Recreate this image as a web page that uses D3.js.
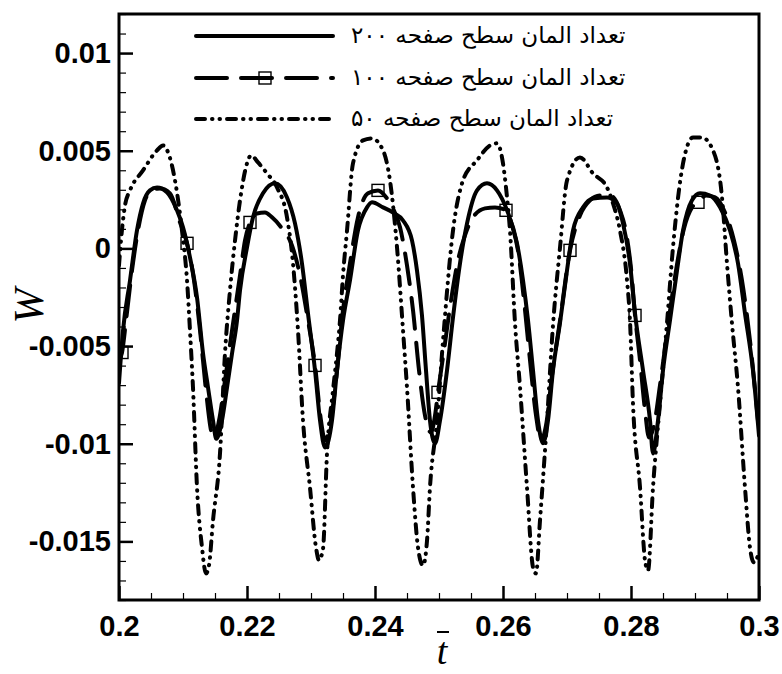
<!DOCTYPE html>
<html><head><meta charset="utf-8">
<script src="https://cdn.jsdelivr.net/npm/d3@7/dist/d3.min.js"></script>
<style>body{margin:0;background:#fff}</style>
</head><body><svg id="c" width="782" height="674"></svg>
<script>
// ---------- data ----------
const xTicks = [0.2, 0.22, 0.24, 0.26, 0.28, 0.3];
const xTickLabels = ["0.2", "0.22", "0.24", "0.26", "0.28", "0.3"];
const yTicks = [0.01, 0.005, 0, -0.005, -0.01, -0.015];
const yTickLabels = ["0.01", "0.005", "0", "-0.005", "-0.01", "-0.015"];
const seriesNames = ["تعداد المان سطح صفحه ۲۰۰", "تعداد المان سطح صفحه ۱۰۰", "تعداد المان سطح صفحه ۵۰"];
const xTitle = "t";
const yTitle = "W";

// [t, W]
const series200 = [[0.2,-6.9e-3],[0.20063,-4.2e-3],[0.20172,-1.64e-3],[0.20281,0.92e-3],[0.20375,2.3e-3],[0.20484,2.97e-3],[0.20594,3.12e-3],[0.2075,2.87e-3],[0.20906,1.95e-3],[0.21,1.08e-3],[0.21109,-0.46e-3],[0.21219,-2.51e-3],[0.21313,-5.38e-3],[0.21391,-7.12e-3],[0.21469,-8.81e-3],[0.2152,-9.75e-3],[0.21609,-8.81e-3],[0.21688,-7.12e-3],[0.21766,-5.38e-3],[0.21844,-3.69e-3],[0.21891,-2.15e-3],[0.22,0.05e-3],[0.22094,1.59e-3],[0.2225,2.82e-3],[0.22438,3.33e-3],[0.22625,2.61e-3],[0.2275,1.28e-3],[0.22859,-0.77e-3],[0.22953,-3.33e-3],[0.23063,-6.25e-3],[0.23141,-8.81e-3],[0.23219,-10.19e-3],[0.23328,-8.81e-3],[0.23406,-6.25e-3],[0.235,-3.69e-3],[0.23609,-1.64e-3],[0.23734,0.92e-3],[0.23875,2.1e-3],[0.23953,2.36e-3],[0.24125,2.1e-3],[0.24281,1.84e-3],[0.24438,1.43e-3],[0.24578,0.41e-3],[0.24656,-1.13e-3],[0.24734,-3.43e-3],[0.24797,-6.25e-3],[0.24859,-8.81e-3],[0.24938,-9.98e-3],[0.25016,-8.81e-3],[0.25125,-6.25e-3],[0.25219,-3.53e-3],[0.25328,-0.77e-3],[0.25438,1.28e-3],[0.25594,2.97e-3],[0.2575,3.33e-3],[0.25906,2.97e-3],[0.26063,1.95e-3],[0.26219,0.26e-3],[0.26313,-1.64e-3],[0.26391,-3.69e-3],[0.26469,-6.25e-3],[0.26547,-8.81e-3],[0.26625,-9.98e-3],[0.26703,-8.81e-3],[0.26781,-6.25e-3],[0.26891,-3.8e-3],[0.27,-1.13e-3],[0.27094,0.92e-3],[0.2725,2.1e-3],[0.27406,2.56e-3],[0.27625,2.61e-3],[0.27781,2.3e-3],[0.27875,1.28e-3],[0.27984,-0.77e-3],[0.28063,-3.33e-3],[0.28188,-6.25e-3],[0.28297,-8.81e-3],[0.28344,-10.5e-3],[0.28422,-8.81e-3],[0.285,-6.25e-3],[0.28609,-3.69e-3],[0.28719,-1.13e-3],[0.28813,0.92e-3],[0.28953,2.46e-3],[0.29078,2.82e-3],[0.29234,2.71e-3],[0.29391,2.1e-3],[0.29547,0.92e-3],[0.29672,-0.77e-3],[0.29781,-3.33e-3],[0.29906,-6.25e-3],[0.3,-9.58e-3]];

const series100 = [[0.2,-5.73e-3],[0.20047,-5.33e-3],[0.2011,-3.69e-3],[0.20203,-1.13e-3],[0.20297,0.92e-3],[0.20406,2.46e-3],[0.20516,2.97e-3],[0.20641,3.07e-3],[0.20797,2.82e-3],[0.20953,1.33e-3],[0.21063,0.26e-3],[0.21172,-1.64e-3],[0.21266,-4.2e-3],[0.21359,-7.27e-3],[0.21438,-9.32e-3],[0.21484,-9.73e-3],[0.21563,-8.81e-3],[0.21656,-6.76e-3],[0.21766,-4.2e-3],[0.21891,-1.38e-3],[0.21969,0.41e-3],[0.22047,1.33e-3],[0.22156,1.79e-3],[0.22281,1.84e-3],[0.22391,1.59e-3],[0.22547,1.02e-3],[0.22703,0.15e-3],[0.22828,-1.38e-3],[0.22953,-3.69e-3],[0.23063,-5.99e-3],[0.23156,-8.81e-3],[0.23219,-9.83e-3],[0.23297,-9.06e-3],[0.23391,-6.76e-3],[0.235,-3.17e-3],[0.23609,-0.77e-3],[0.23734,1.59e-3],[0.23891,2.82e-3],[0.24047,2.97e-3],[0.24188,2.56e-3],[0.24281,2.05e-3],[0.24391,1.08e-3],[0.245,-0.87e-3],[0.24594,-3.17e-3],[0.24688,-6.25e-3],[0.24781,-8.55e-3],[0.24875,-9.42e-3],[0.24938,-8.55e-3],[0.24984,-7.37e-3],[0.25078,-5.22e-3],[0.25188,-2.66e-3],[0.25297,-0.61e-3],[0.25406,0.67e-3],[0.25531,1.59e-3],[0.25719,2.05e-3],[0.25875,2.1e-3],[0.26047,1.95e-3],[0.26141,1.18e-3],[0.26234,-0.1e-3],[0.26328,-2.66e-3],[0.26422,-5.73e-3],[0.26516,-8.55e-3],[0.26594,-9.83e-3],[0.26672,-9.06e-3],[0.26766,-6.5e-3],[0.26891,-3.69e-3],[0.27047,-0.1e-3],[0.27203,1.69e-3],[0.27359,2.46e-3],[0.27516,2.71e-3],[0.27703,2.66e-3],[0.27828,1.95e-3],[0.27922,0.82e-3],[0.28,-1.02e-3],[0.28063,-3.43e-3],[0.28141,-5.73e-3],[0.28219,-8.29e-3],[0.28281,-9.68e-3],[0.28359,-9.06e-3],[0.28453,-7.01e-3],[0.28578,-3.94e-3],[0.28703,-1.13e-3],[0.28828,1.02e-3],[0.28953,2.1e-3],[0.29047,2.36e-3],[0.29172,2.71e-3],[0.29313,2.61e-3],[0.29469,1.84e-3],[0.29609,0.41e-3],[0.29734,-1.64e-3],[0.29859,-4.71e-3],[0.29984,-8.81e-3]];

const markers100 = [[0.20047,-5.33e-3],[0.21063,0.26e-3],[0.22047,1.33e-3],[0.23063,-5.99e-3],[0.24047,2.97e-3],[0.24984,-7.37e-3],[0.26047,1.95e-3],[0.27047,-0.1e-3],[0.28063,-3.43e-3],[0.29047,2.36e-3]];

const series50 = [[0.2,-0.87e-3],[0.20031,0.41e-3],[0.20094,2.2e-3],[0.20172,2.97e-3],[0.20375,3.99e-3],[0.20594,5.02e-3],[0.20688,5.27e-3],[0.20766,4.92e-3],[0.20875,3.48e-3],[0.20984,0.92e-3],[0.21063,-1.64e-3],[0.21109,-4.2e-3],[0.21156,-7.12e-3],[0.21219,-12.24e-3],[0.21297,-15.31e-3],[0.21359,-16.64e-3],[0.21406,-16.23e-3],[0.21469,-13.93e-3],[0.21578,-10.5e-3],[0.21656,-5.38e-3],[0.21734,-2.15e-3],[0.21813,0.41e-3],[0.21891,2.46e-3],[0.22,4.35e-3],[0.22063,4.76e-3],[0.22172,4.4e-3],[0.22313,3.84e-3],[0.22469,3.12e-3],[0.22625,1.59e-3],[0.22719,-0.77e-3],[0.22797,-4.2e-3],[0.22875,-8.81e-3],[0.22984,-12.24e-3],[0.23078,-15.31e-3],[0.23125,-15.97e-3],[0.23188,-15.36e-3],[0.2325,-10.5e-3],[0.23344,-7.27e-3],[0.23406,-5.38e-3],[0.23453,-3.69e-3],[0.235,-1.38e-3],[0.23563,0.92e-3],[0.23656,4.35e-3],[0.23813,5.53e-3],[0.23953,5.63e-3],[0.24125,5.02e-3],[0.24234,3.48e-3],[0.24344,0.05e-3],[0.24438,-4.2e-3],[0.245,-7.12e-3],[0.24594,-12.24e-3],[0.24672,-15.31e-3],[0.2475,-16.23e-3],[0.24813,-14.95e-3],[0.24859,-12.24e-3],[0.24969,-8.81e-3],[0.25063,-4.71e-3],[0.25219,0.92e-3],[0.25375,3.48e-3],[0.25594,4.51e-3],[0.25797,5.27e-3],[0.25906,5.38e-3],[0.26,4.35e-3],[0.26063,2.61e-3],[0.26109,0.92e-3],[0.26188,-3.84e-3],[0.26266,-7.12e-3],[0.26375,-12.24e-3],[0.26469,-16.33e-3],[0.26516,-16.64e-3],[0.26578,-13.93e-3],[0.26688,-8.81e-3],[0.26781,-3.94e-3],[0.26891,0.05e-3],[0.27,3.48e-3],[0.27203,4.66e-3],[0.27406,3.84e-3],[0.27625,3.12e-3],[0.27719,2.3e-3],[0.27828,0.92e-3],[0.27938,-1.64e-3],[0.27984,-3.69e-3],[0.28031,-7.94e-3],[0.28141,-12.24e-3],[0.28219,-15.97e-3],[0.28266,-16.49e-3],[0.28344,-12.24e-3],[0.28453,-7.94e-3],[0.28563,-3.79e-3],[0.28656,0.05e-3],[0.28813,4.35e-3],[0.28969,5.68e-3],[0.29109,5.68e-3],[0.29281,5.02e-3],[0.29422,2.61e-3],[0.295,-0.77e-3],[0.29578,-3.84e-3],[0.29672,-7.12e-3],[0.29781,-12.24e-3],[0.29859,-15.31e-3],[0.29922,-16.08e-3],[0.3,-15.57e-3]];

// ---------- layout ----------
const L = 119, R = 759, T = 14, B = 600;
const svg = d3.select("#c");
const x = d3.scaleLinear().domain([0.2, 0.3]).range([L, R]);
const y = d3.scaleLinear().domain([-0.018, 0.012]).range([B, T]);

const tickFont = "'Liberation Sans', Arial, Helvetica, sans-serif";

// minor ticks
const xMinor = d3.range(0, 21).map(i => 0.2 + i * 0.005).filter((v, i) => i % 4 !== 0);
const yMinor = d3.range(0, 31).map(i => -0.018 + i * 0.001).filter(v => Math.abs(Math.round(v * 200) - v * 200) > 1e-6);

const gxm = svg.append("g").attr("transform", `translate(0,${B})`)
  .call(d3.axisBottom(x).tickValues(xMinor).tickSize(-7).tickFormat(""));
const gym = svg.append("g").attr("transform", `translate(${L},0)`)
  .call(d3.axisLeft(y).tickValues(yMinor).tickSize(-7).tickFormat(""));
[gxm, gym].forEach(g => { g.select(".domain").remove(); g.selectAll("line").attr("stroke", "#000").attr("stroke-width", 1.2); });

const gx = svg.append("g").attr("transform", `translate(0,${B})`)
  .call(d3.axisBottom(x).tickValues(xTicks).tickSize(-14).tickPadding(15)
    .tickFormat((d, i) => xTickLabels[i]));
const gy = svg.append("g").attr("transform", `translate(${L},0)`)
  .call(d3.axisLeft(y).tickValues(yTicks).tickSize(-14).tickPadding(8)
    .tickFormat((d, i) => yTickLabels[i]));
[gx, gy].forEach(g => {
  g.select(".domain").remove();
  g.selectAll("line").attr("stroke", "#000").attr("stroke-width", 2.5);
  g.selectAll("text").attr("fill", "#000").style("font-family", tickFont)
    .style("font-weight", "bold").style("font-size", "29px");
});

// clip
svg.append("clipPath").attr("id", "clip").append("rect")
  .attr("x", L).attr("y", T).attr("width", R - L).attr("height", B - T);

const line = d3.line().x(d => x(d[0])).y(d => y(d[1])).curve(d3.curveMonotoneX);
const styles = [
  { data: series200, dash: null },
  { data: series100, dash: "31,14" },
  { data: series50, dash: "9,7,0.5,7,0.5,7" }
];
const plot = svg.append("g").attr("clip-path", "url(#clip)");
[2, 1, 0].forEach(i => {
  const s = styles[i];
  plot.append("path").datum(s.data).attr("d", line)
    .attr("fill", "none").attr("stroke", "#000").attr("stroke-width", 4)
    .attr("stroke-linecap", "round").attr("stroke-linejoin", "round")
    .attr("stroke-dasharray", s.dash);
});
plot.selectAll("rect.mk").data(markers100).enter().append("rect").attr("class", "mk")
  .attr("x", d => x(d[0]) - 6).attr("y", d => y(d[1]) - 6)
  .attr("width", 12).attr("height", 12)
  .attr("fill", "none").attr("stroke", "#000").attr("stroke-width", 1.4);

// frame
svg.append("rect").attr("x", L).attr("y", T).attr("width", R - L).attr("height", B - T)
  .attr("fill", "none").attr("stroke", "#000").attr("stroke-width", 3);

// legend
const legY = [36, 78, 119];
const lg = svg.append("g");
styles.forEach((s, i) => {
  lg.append("line").attr("x1", 196).attr("x2", 333).attr("y1", legY[i]).attr("y2", legY[i])
    .attr("stroke", "#000").attr("stroke-width", 4).attr("stroke-linecap", "round")
    .attr("stroke-dasharray", s.dash);
  lg.append("text").attr("x", 351).attr("y", legY[i] + 7)
    .attr("text-anchor", "start")
    .style("font-family", "'DejaVu Sans', sans-serif").style("font-size", "23px")
    .attr("fill", "#000").text(seriesNames[i]);
});
lg.append("rect").attr("x", 265 - 6).attr("y", legY[1] - 6).attr("width", 12).attr("height", 12)
  .attr("fill", "none").attr("stroke", "#000").attr("stroke-width", 1.4);

// axis titles
svg.append("text").attr("transform", "translate(43,306) rotate(-90)")
  .attr("text-anchor", "middle")
  .style("font-family", "'Liberation Serif', 'Times New Roman', serif")
  .style("font-style", "italic").style("font-size", "42px").attr("fill", "#000").text(yTitle);
svg.append("text").attr("x", 442).attr("y", 664).attr("text-anchor", "middle")
  .style("font-family", "'Liberation Serif', 'Times New Roman', serif")
  .style("font-style", "italic").style("font-size", "38px").attr("fill", "#000").text(xTitle);
svg.append("line").attr("x1", 437).attr("x2", 449).attr("y1", 632).attr("y2", 632)
  .attr("stroke", "#000").attr("stroke-width", 2);
</script></body></html>
